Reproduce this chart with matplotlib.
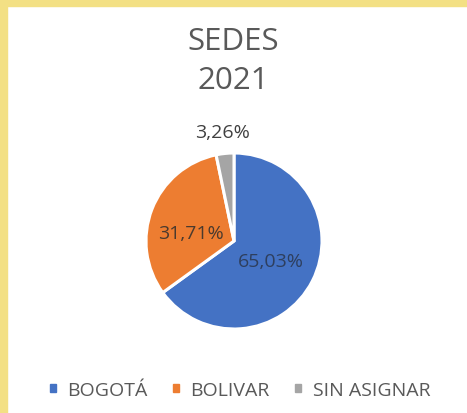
import numpy as np
import matplotlib
matplotlib.use('Agg')
import matplotlib.pyplot as plt
from matplotlib.patches import Rectangle

categories = ['BOGOTÁ', 'BOLIVAR', 'SIN ASIGNAR']
values = [65.03, 31.71, 3.26]
colors = ['#4472C4', '#ED7D31', '#A5A5A5']
label_colors = ['#2E3F5E', '#4A3A2E', '#404040']
label_dist = [0.48, 0.50, 1.25]
label_turn = [-1, 11, 0]   # degrees, nudges label off the wedge bisector

plt.rcParams['font.family'] = ['Open Sans', 'DejaVu Sans']

W, H = 467, 414
fig = plt.figure(figsize=(W / 100, H / 100), dpi=100)
fig.patch.set_facecolor('white')

# yellow frame on top and left
fig.patches.append(Rectangle((0, 1 - 7 / H), 1, 7 / H, transform=fig.transFigure,
                             color='#F3E084', zorder=0))
fig.patches.append(Rectangle((0, 0), 7 / W, 1, transform=fig.transFigure,
                             color='#F3E084', zorder=0))

cx, cy, r = 234, 242, 88
ax = fig.add_axes([(cx - r) / W, (H - cy - r) / H, 2 * r / W, 2 * r / H])
wedges, _ = ax.pie(values, colors=colors, startangle=90, counterclock=False,
                   wedgeprops=dict(edgecolor='white', linewidth=2.2))
ax.set_xlim(-1, 1)
ax.set_ylim(-1, 1)

for w, v, d, t, c in zip(wedges, values, label_dist, label_turn, label_colors):
    ang = np.deg2rad((w.theta1 + w.theta2) / 2 + t)
    txt = f'{v:.2f}%'.replace('.', ',')
    ax.text(d * np.cos(ang), d * np.sin(ang), txt, ha='center', va='center',
            fontsize=14, color=c, clip_on=False)

fig.text(0.5, 1 - 42 / H, 'SEDES', ha='center', va='center', fontsize=22.5, color='#595959')
fig.text(0.5, 1 - 81 / H, '2021', ha='center', va='center', fontsize=22.5, color='#595959')

handles = [Rectangle((0, 0), 1, 1, color=c) for c in colors]
fig.legend(handles, categories, loc='center', bbox_to_anchor=(240 / W, 1 - 391 / H),
           ncol=3, frameon=False, fontsize=14, labelcolor='#595959',
           handlelength=0.3, handleheight=0.3, handletextpad=0.6, columnspacing=1.3)

fig.savefig('out.png', dpi=100)
